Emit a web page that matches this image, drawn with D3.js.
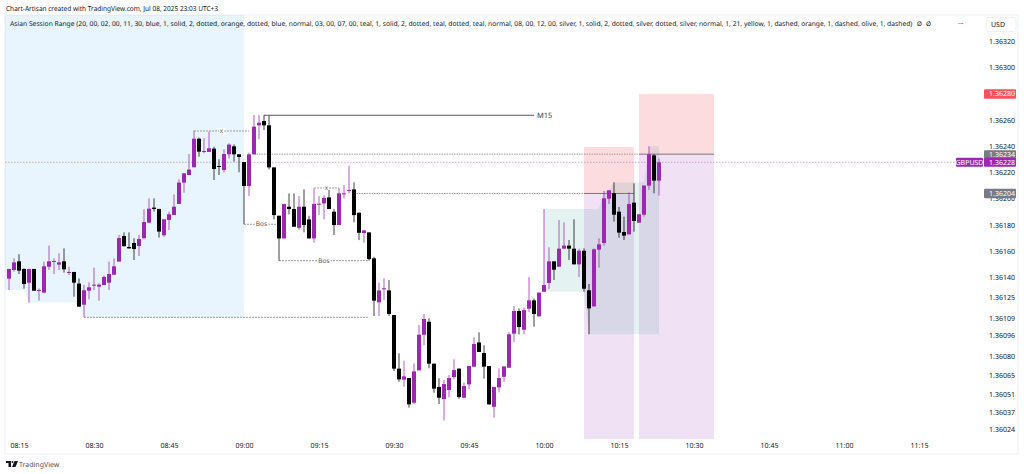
<!DOCTYPE html>
<html>
<head>
<meta charset="utf-8">
<script src="https://cdn.jsdelivr.net/npm/d3@7"></script>
<style>
html, body { margin: 0; padding: 0; background: #fff; overflow: hidden; }
svg { display: block; }
text { font-family: "Noto Sans", sans-serif; fill: #131722; text-rendering: geometricPrecision; }
</style>
</head>
<body>
<div id="chart"></div>
<script>
// Candle values, one per minute from the start time
var startTime = "2025-07-08 08:13";
var opens = [
1.36139,1.361456,1.361522,1.361464,1.361359,1.361464,1.361298,1.361283,1.361481,1.36152,
1.361497,1.361522,1.361436,1.361441,1.361352,1.361191,1.361298,1.361339,1.361329,1.361341,
1.361359,1.36142,1.36152,1.361715,1.361632,1.361662,1.361639,1.361698,1.361817,1.361932,
1.361922,1.361721,1.361838,1.361876,1.36196,1.362123,1.362181,1.36224,1.362458,1.362359,
1.362357,1.362382,1.36225,1.362219,1.362339,1.3624,1.362339,1.36228,1.362097,1.362339,
1.36256,1.362593,1.36256,1.362239,1.36187,1.361697,1.361939,1.361921,1.361778,1.361939,
1.361842,1.361697,1.361957,1.361964,1.36201,1.361901,1.361799,1.362035,1.362061,1.362071,
1.361893,1.361738,1.361743,1.361545,1.361209,1.361311,1.3613,1.361112,1.360703,1.360619,
1.360631,1.360443,1.36069,1.360962,1.361061,1.360741,1.360563,1.360471,1.36054,1.360639,
1.360703,1.360481,1.360583,1.360718,1.360903,1.360822,1.360723,1.360412,1.36056,1.360641,
1.36071,1.36097,1.361143,1.361,1.361161,1.361224,1.361102,1.36129,1.361357,1.361522,
1.361481,1.361619,1.361642,1.361619,1.361499,1.361603,1.361301,1.361178,1.361611,1.361662,
1.362,1.362041,1.361901,1.361746,1.361728,1.36197,1.361817,1.361878,1.3621,1.362331,
1.362138];
var highs = [
1.361464,1.361545,1.361576,1.361469,1.361464,1.361464,1.361316,1.36152,1.361642,1.361545,
1.361583,1.361621,1.361481,1.361441,1.361392,1.361341,1.361362,1.361474,1.361354,1.361413,
1.36152,1.361545,1.361723,1.361743,1.361743,1.361698,1.361723,1.361919,1.362003,1.362003,
1.361922,1.361843,1.361901,1.362034,1.362148,1.362194,1.362341,1.36252,1.362466,1.362461,
1.362512,1.362397,1.362301,1.362377,1.362423,1.362415,1.362339,1.36228,1.362352,1.362639,
1.362638,1.362637,1.362633,1.362239,1.36187,1.361959,1.362041,1.362041,1.36202,1.362071,
1.36187,1.362079,1.36202,1.362028,1.362066,1.361921,1.362079,1.362104,1.362252,1.362125,
1.361895,1.361761,1.361743,1.361557,1.361361,1.361392,1.361379,1.361112,1.36082,1.360764,
1.360631,1.360743,1.361036,1.36112,1.361087,1.360743,1.360629,1.360616,1.360654,1.360774,
1.360705,1.360596,1.360723,1.360942,1.36098,1.360881,1.360723,1.360563,1.360705,1.36072,
1.360982,1.361181,1.361163,1.361171,1.361402,1.361239,1.361283,1.361921,1.361629,1.361522,
1.361837,1.36182,1.361685,1.361843,1.361619,1.361621,1.361349,1.361621,1.361698,1.362059,
1.362067,1.362125,1.361937,1.361863,1.362049,1.362117,1.361881,1.362105,1.3624,1.362339,
1.362308];
var lows = [
1.361303,1.361443,1.361425,1.361313,1.361207,1.361298,1.361222,1.361283,1.361456,1.361425,
1.361456,1.361436,1.361418,1.361252,1.361176,1.361095,1.361232,1.361303,1.361222,1.361339,
1.361303,1.36142,1.36152,1.361637,1.361619,1.361532,1.361563,1.361698,1.361817,1.361901,
1.361703,1.36171,1.361761,1.361876,1.36196,1.362046,1.362181,1.36224,1.362321,1.362347,
1.362357,1.362143,1.362181,1.362199,1.362308,1.362283,1.362202,1.361805,1.362021,1.362339,
1.362453,1.362524,1.362224,1.361842,1.361527,1.361697,1.36188,1.361786,1.361761,1.361743,
1.361697,1.361664,1.361875,1.361842,1.361921,1.361723,1.361799,1.362002,1.362041,1.361819,
1.361684,1.361664,1.361527,1.361105,1.361105,1.361227,1.361105,1.360685,1.360603,1.360565,
1.360405,1.360433,1.36069,1.360883,1.360705,1.360519,1.360433,1.360306,1.360484,1.360624,
1.360473,1.360481,1.360545,1.360718,1.36083,1.360626,1.36043,1.360328,1.360522,1.360603,
1.36071,1.360906,1.360965,1.360965,1.361133,1.361023,1.361102,1.36129,1.361311,1.361379,
1.361481,1.361619,1.361532,1.361499,1.361402,1.36129,1.360965,1.361178,1.361474,1.361642,
1.36196,1.361825,1.361703,1.361685,1.361728,1.361748,1.361817,1.361863,1.362067,1.362041,
1.362023];
var closes = [
1.361464,1.361514,1.361451,1.361349,1.361464,1.361298,1.361303,1.361484,1.361522,1.361525,
1.361514,1.361461,1.361441,1.361359,1.361176,1.361301,1.361324,1.361344,1.361344,1.361403,
1.361425,1.361484,1.3617,1.361637,1.361621,1.361616,1.361693,1.361822,1.361924,1.361922,
1.361749,1.361843,1.361881,1.361939,1.362123,1.362194,1.362222,1.362458,1.362359,1.362364,
1.362385,1.362227,1.362242,1.362341,1.362413,1.362339,1.362319,1.362097,1.362339,1.36255,
1.36258,1.36256,1.362239,1.361875,1.361697,1.361959,1.361921,1.361786,1.361939,1.361799,
1.361697,1.361959,1.361962,1.362005,1.361921,1.361799,1.362041,1.362041,1.362066,1.361875,
1.36174,1.361758,1.361539,1.361222,1.3613,1.361316,1.36112,1.360703,1.360621,1.360644,
1.36043,1.360682,1.360962,1.361082,1.360741,1.36055,1.360481,1.360585,1.360631,1.360692,
1.360486,1.36057,1.360723,1.360891,1.36083,1.360718,1.36043,1.360563,1.360631,1.36072,
1.360965,1.361143,1.361021,1.36115,1.361224,1.36112,1.361283,1.361341,1.361522,1.361458,
1.361619,1.361642,1.361619,1.361499,1.361603,1.361313,1.361163,1.361614,1.361652,1.362003,
1.362064,1.361878,1.361741,1.361718,1.36196,1.36183,1.361881,1.3621,1.362339,1.362138,
1.362278];

// Axis labels
var priceTicks = [1.3632,1.363,1.3628,1.3626,1.3624,1.3622,1.362,1.3618,1.3616,1.3614,1.36125,1.36109,1.36096,1.3608,1.36065,1.36051,1.36037,1.36024];
var timeTicks = ["08:15","08:30","08:45","09:00","09:15","09:30","09:45","10:00","10:15","10:30","10:45","11:00","11:15"];

// Session ranges: first and last candle index
var asiaRange = [0, 47];
var londonRange = [107, 130];

// Position boxes: first bar, last bar, top, entry, bottom
var posStart = [115, 126];
var posEnd = [125, 141];
var posTop = [1.362395, 1.3628];
var posEntry = [1.36204, 1.36234];
var posBottom = [1.360166, 1.360166];

// Dashed level lines: first bar, last bar, price, label
var levelStart = [37, 61, 47, 54, 15];
var levelEnd = [48, 66, 54, 72, 72];
var levelPrice = [1.362517, 1.362082, 1.361805, 1.361527, 1.361095];
var levelLabel = ["x", "x", "Bos", "Bos", ""];

var legendText = "Asian Session Range (20, 00, 02, 00, 11, 30, blue, 1, solid, 2, dotted, orange, dotted, blue, normal, 03, 00, 07, 00, teal, 1, solid, 2, dotted, teal, dotted, teal, normal, 08, 00, 12, 00, silver, 1, solid, 2, dotted, silver, dotted, silver, normal, 1, 21, yellow, 1, dashed, orange, 1, dashed, olive, 1, dashed)";
var titleText = "Chart-Artisan created with TradingView.com, Jul 08, 2025 23:03 UTC+3";

var W = 1024, H = 474;
var frameL = 5, frameR = 1018, frameT = 15, frameB = 454;
var PURPLE = "#9c27b0";

var parseTime = d3.utcParse("%Y-%m-%d %H:%M");
var t0 = parseTime(startTime);
function timeAt(i) { return new Date(t0.getTime() + i * 60000); }

// 5px per minute, 131px per 0.001
var x = d3.scaleUtc().domain([timeAt(0), timeAt(190)]).range([9, 959]);
var y = d3.scaleLinear().domain([1.3632, 1.36024]).range([41.5, 429.3]);

function xi(i) { return x(timeAt(i)); }

var svg = d3.select("#chart").append("svg").attr("width", W).attr("height", H);

// Frame
svg.append("rect").attr("x", frameL).attr("y", frameT).attr("width", frameR - frameL).attr("height", frameB - frameT)
    .attr("fill", "#fff").attr("stroke", "#eef0f5").attr("stroke-width", 1);

var plot = svg.append("g");

// Position boxes
posStart.forEach(function(s, k) {
    plot.append("rect").attr("x", xi(s)).attr("width", xi(posEnd[k]) - xi(s))
        .attr("y", y(posTop[k])).attr("height", y(posEntry[k]) - y(posTop[k]))
        .attr("fill", "#f7525f").attr("fill-opacity", 0.2);
    plot.append("rect").attr("x", xi(s)).attr("width", xi(posEnd[k]) - xi(s))
        .attr("y", y(posEntry[k])).attr("height", y(posBottom[k]) - y(posEntry[k]))
        .attr("fill", PURPLE).attr("fill-opacity", 0.14);
});

// Asian session, bottom edge follows the running low
var asia = [], runLow = Infinity;
for (var i = asiaRange[0]; i <= asiaRange[1]; i++) {
    runLow = Math.min(runLow, lows[i]);
    asia.push({ t: timeAt(i), low: runLow });
}
asia.unshift({ t: x.invert(frameL), low: asia[0].low });
plot.append("path").datum(asia)
    .attr("d", d3.area().x(function(d) { return x(d.t); }).y0(frameT).y1(function(d) { return y(d.low); }))
    .attr("fill", "#2196f3").attr("fill-opacity", 0.1);

// London session, running high and low
var london = [], hi = -Infinity, lo = Infinity;
for (var j = londonRange[0]; j <= londonRange[1]; j++) {
    hi = Math.max(hi, highs[j]);
    lo = Math.min(lo, lows[j]);
    london.push({ t: timeAt(j), hi: hi, lo: lo });
}
plot.append("path").datum(london)
    .attr("d", d3.area().x(function(d) { return x(d.t); })
        .y0(function(d) { return y(d.lo); }).y1(function(d) { return y(d.hi); }))
    .attr("fill", "#008080").attr("fill-opacity", 0.1);

// Dotted level lines and the M15 line
function hline(a, b, p, color, dash, w, op) {
    plot.append("line").attr("x1", a).attr("x2", b).attr("y1", y(p)).attr("y2", y(p))
        .attr("stroke", color).attr("stroke-width", w).attr("stroke-dasharray", dash)
        .attr("stroke-opacity", op || 1);
}
hline(xi(49), xi(126), posEntry[1], "#8a8a8a", "1.5,1", 0.8);
hline(xi(126), xi(141), posEntry[1], "#777", null, 1);
hline(xi(69), xi(115), posEntry[0], "#8a8a8a", "1.5,1", 0.8);
hline(xi(115), xi(125), posEntry[0], "#777", null, 1);
hline(xi(51), xi(105), 1.362637, "#555", null, 1);
hline(frameL, 956, closes[closes.length - 1], PURPLE, "1.5,1.5", 0.7, 0.55);

levelPrice.forEach(function(p, k) {
    hline(xi(levelStart[k]), xi(levelEnd[k]), p, "#888", "2,1", 0.8);
    if (levelLabel[k]) {
        plot.append("text").attr("x", (xi(levelStart[k]) + xi(levelEnd[k])) / 2).attr("y", y(p) + 2.2)
            .attr("text-anchor", "middle").attr("font-size", 6.5).style("fill", "#555")
            .style("paint-order", "stroke").style("stroke", "#fff").style("stroke-width", 3)
            .text(levelLabel[k]);
    }
});

plot.append("text").attr("x", 537).attr("y", y(1.362637) + 2.8).attr("font-size", 7.5).style("fill", "#333").text("M15");

// Candles
var candles = plot.selectAll("g.candle").data(d3.range(opens.length)).enter().append("g").attr("class", "candle");

candles.append("line")
    .attr("x1", function(i) { return xi(i); }).attr("x2", function(i) { return xi(i); })
    .attr("y1", function(i) { return y(highs[i]); }).attr("y2", function(i) { return y(lows[i]); })
    .attr("stroke", function(i) { return closes[i] >= opens[i] ? PURPLE : "#000"; })
    .attr("stroke-opacity", 0.75).attr("stroke-width", 1);

candles.append("rect")
    .attr("x", function(i) { return xi(i) - 2; }).attr("width", 4)
    .attr("y", function(i) { return y(Math.max(opens[i], closes[i])); })
    .attr("height", function(i) { return Math.max(1, Math.abs(y(opens[i]) - y(closes[i]))); })
    .attr("fill", function(i) { return closes[i] >= opens[i] ? PURPLE : "#000"; });

// Axes
var yAxis = d3.axisRight(y).tickValues(priceTicks).tickSize(0).tickPadding(0).tickFormat(d3.format(".5f"));
var yg = svg.append("g").attr("transform", "translate(989,0)").call(yAxis);
yg.select(".domain").remove();
yg.selectAll("text").attr("font-size", 7).attr("x", 0);

var xAxis = d3.axisBottom(x).tickSize(0).tickPadding(0)
    .tickValues(timeTicks.map(function(d) { return parseTime("2025-07-08 " + d); }))
    .tickFormat(d3.utcFormat("%H:%M"));
var xg = svg.append("g").attr("transform", "translate(0,443)").call(xAxis);
xg.select(".domain").remove();
xg.selectAll("text").attr("font-size", 7);

// Price labels on the right
function priceTag(p, color, h) {
    svg.append("rect").attr("x", 984).attr("y", y(p) - h / 2).attr("width", 32).attr("height", h).attr("rx", 1).attr("fill", color);
    svg.append("text").attr("x", 989).attr("y", y(p) + 2.5).attr("font-size", 7)
        .style("fill", "#fff").text(d3.format(".5f")(p));
}
priceTag(posTop[1], "#f7525f", 9.5);
priceTag(posEntry[1], "#787b86", 8);
priceTag(posEntry[0], "#787b86", 9.5);
priceTag(closes[closes.length - 1], PURPLE, 9);
svg.append("rect").attr("x", 956).attr("y", y(closes[closes.length - 1]) - 4.5).attr("width", 27).attr("height", 9).attr("rx", 1).attr("fill", PURPLE);
svg.append("text").attr("x", 969.5).attr("y", y(closes[closes.length - 1]) + 2.5).attr("text-anchor", "middle")
    .attr("font-size", 7).style("fill", "#fff").text("GBPUSD");

// USD box
svg.append("rect").attr("x", 986).attr("y", 17.5).attr("width", 30).attr("height", 14).attr("rx", 2)
    .attr("fill", "#fff").attr("stroke", "#eef0f5");
svg.append("text").attr("x", 991).attr("y", 27).attr("font-size", 7).text("USD");

// Header and legend
svg.append("text").attr("x", 6).attr("y", 10.5).attr("font-size", 6.9)
    .attr("textLength", 212).attr("lengthAdjust", "spacingAndGlyphs").text(titleText);
svg.append("text").attr("x", 10).attr("y", 25.5).attr("font-size", 6.72).text(legendText);
svg.append("text").attr("x", 917).attr("y", 25.5).attr("font-size", 6.3).text("Ø");
svg.append("text").attr("x", 926).attr("y", 25.5).attr("font-size", 6.3).text("Ø");
svg.append("text").attr("x", 958).attr("y", 25.5).attr("font-size", 7).text("···");

// Footer logo
var logo = d3.path();
logo.moveTo(6, 461); logo.lineTo(11, 461); logo.lineTo(11, 467); logo.lineTo(8.5, 467); logo.lineTo(8.5, 463); logo.lineTo(6, 463); logo.closePath();
logo.moveTo(14.5, 461); logo.lineTo(18, 461); logo.lineTo(15.5, 467); logo.lineTo(12, 467); logo.closePath();
svg.append("path").attr("d", logo.toString()).attr("fill", "#131722");
svg.append("circle").attr("cx", 12.5).attr("cy", 462).attr("r", 1).attr("fill", "#131722");
svg.append("text").attr("x", 19).attr("y", 467).attr("font-size", 7).style("fill", "#555").text("TradingView");
</script>
</body>
</html>
